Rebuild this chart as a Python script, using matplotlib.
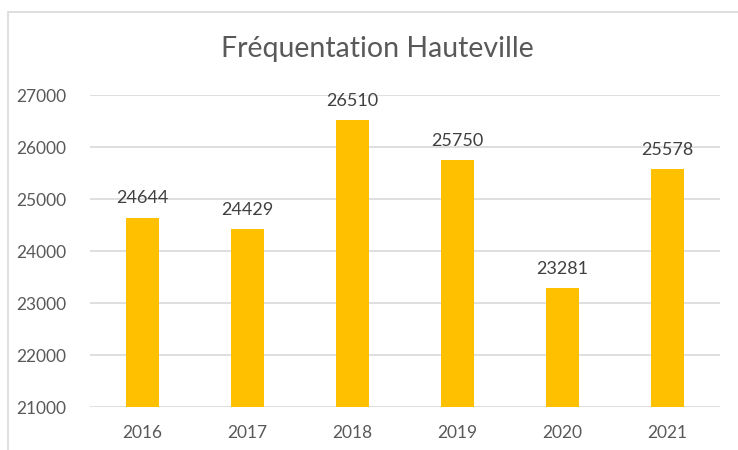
import matplotlib.pyplot as plt
from matplotlib.patches import Rectangle

annees = ["2016", "2017", "2018", "2019", "2020", "2021"]
frequentation = [24644, 24429, 26510, 25750, 23281, 25578]
graduations = [21000, 22000, 23000, 24000, 25000, 26000, 27000]

plt.rcParams['font.family'] = ['Lato', 'DejaVu Sans']

fig = plt.figure(figsize=(7.38, 4.5), dpi=100)
ax = fig.add_axes([90 / 738, 43 / 450, 630 / 738, 312 / 450])

# cadre du graphique (seuls les bords gauche et haut sont visibles)
fig.patches.append(Rectangle((8 / 738, -0.1), 1.2, 1 - 12 / 450 + 0.1,
                             transform=fig.transFigure, fill=False,
                             edgecolor='#d9d9d9', linewidth=1.2))

x = range(len(annees))
barres = ax.bar(x, frequentation, width=0.31, color='#ffc000', zorder=2)
for xi, v in zip(x, frequentation):
    ax.annotate(str(v), (xi, v), xytext=(0, 8), textcoords='offset points',
                ha='center', va='bottom', fontsize=13, color='#404040')

ax.set_ylim(21000, 27000)
ax.set_xlim(-0.5, len(annees) - 0.5)
ax.set_yticks(graduations)
ax.set_xticks(list(x))
ax.set_xticklabels(annees)
ax.tick_params(axis='both', length=0, labelsize=12.5, labelcolor='#595959')
ax.tick_params(axis='y', pad=17)
ax.tick_params(axis='x', pad=13)
ax.grid(axis='y', color='#d9d9d9', linewidth=1.2, zorder=0)
for s in ax.spines.values():
    s.set_visible(False)

fig.text(377 / 738, 1 - 49 / 450, "Fréquentation Hauteville", ha='center',
         va='center', fontsize=20.5, color='#595959')

fig.savefig("out.png", dpi=100)
